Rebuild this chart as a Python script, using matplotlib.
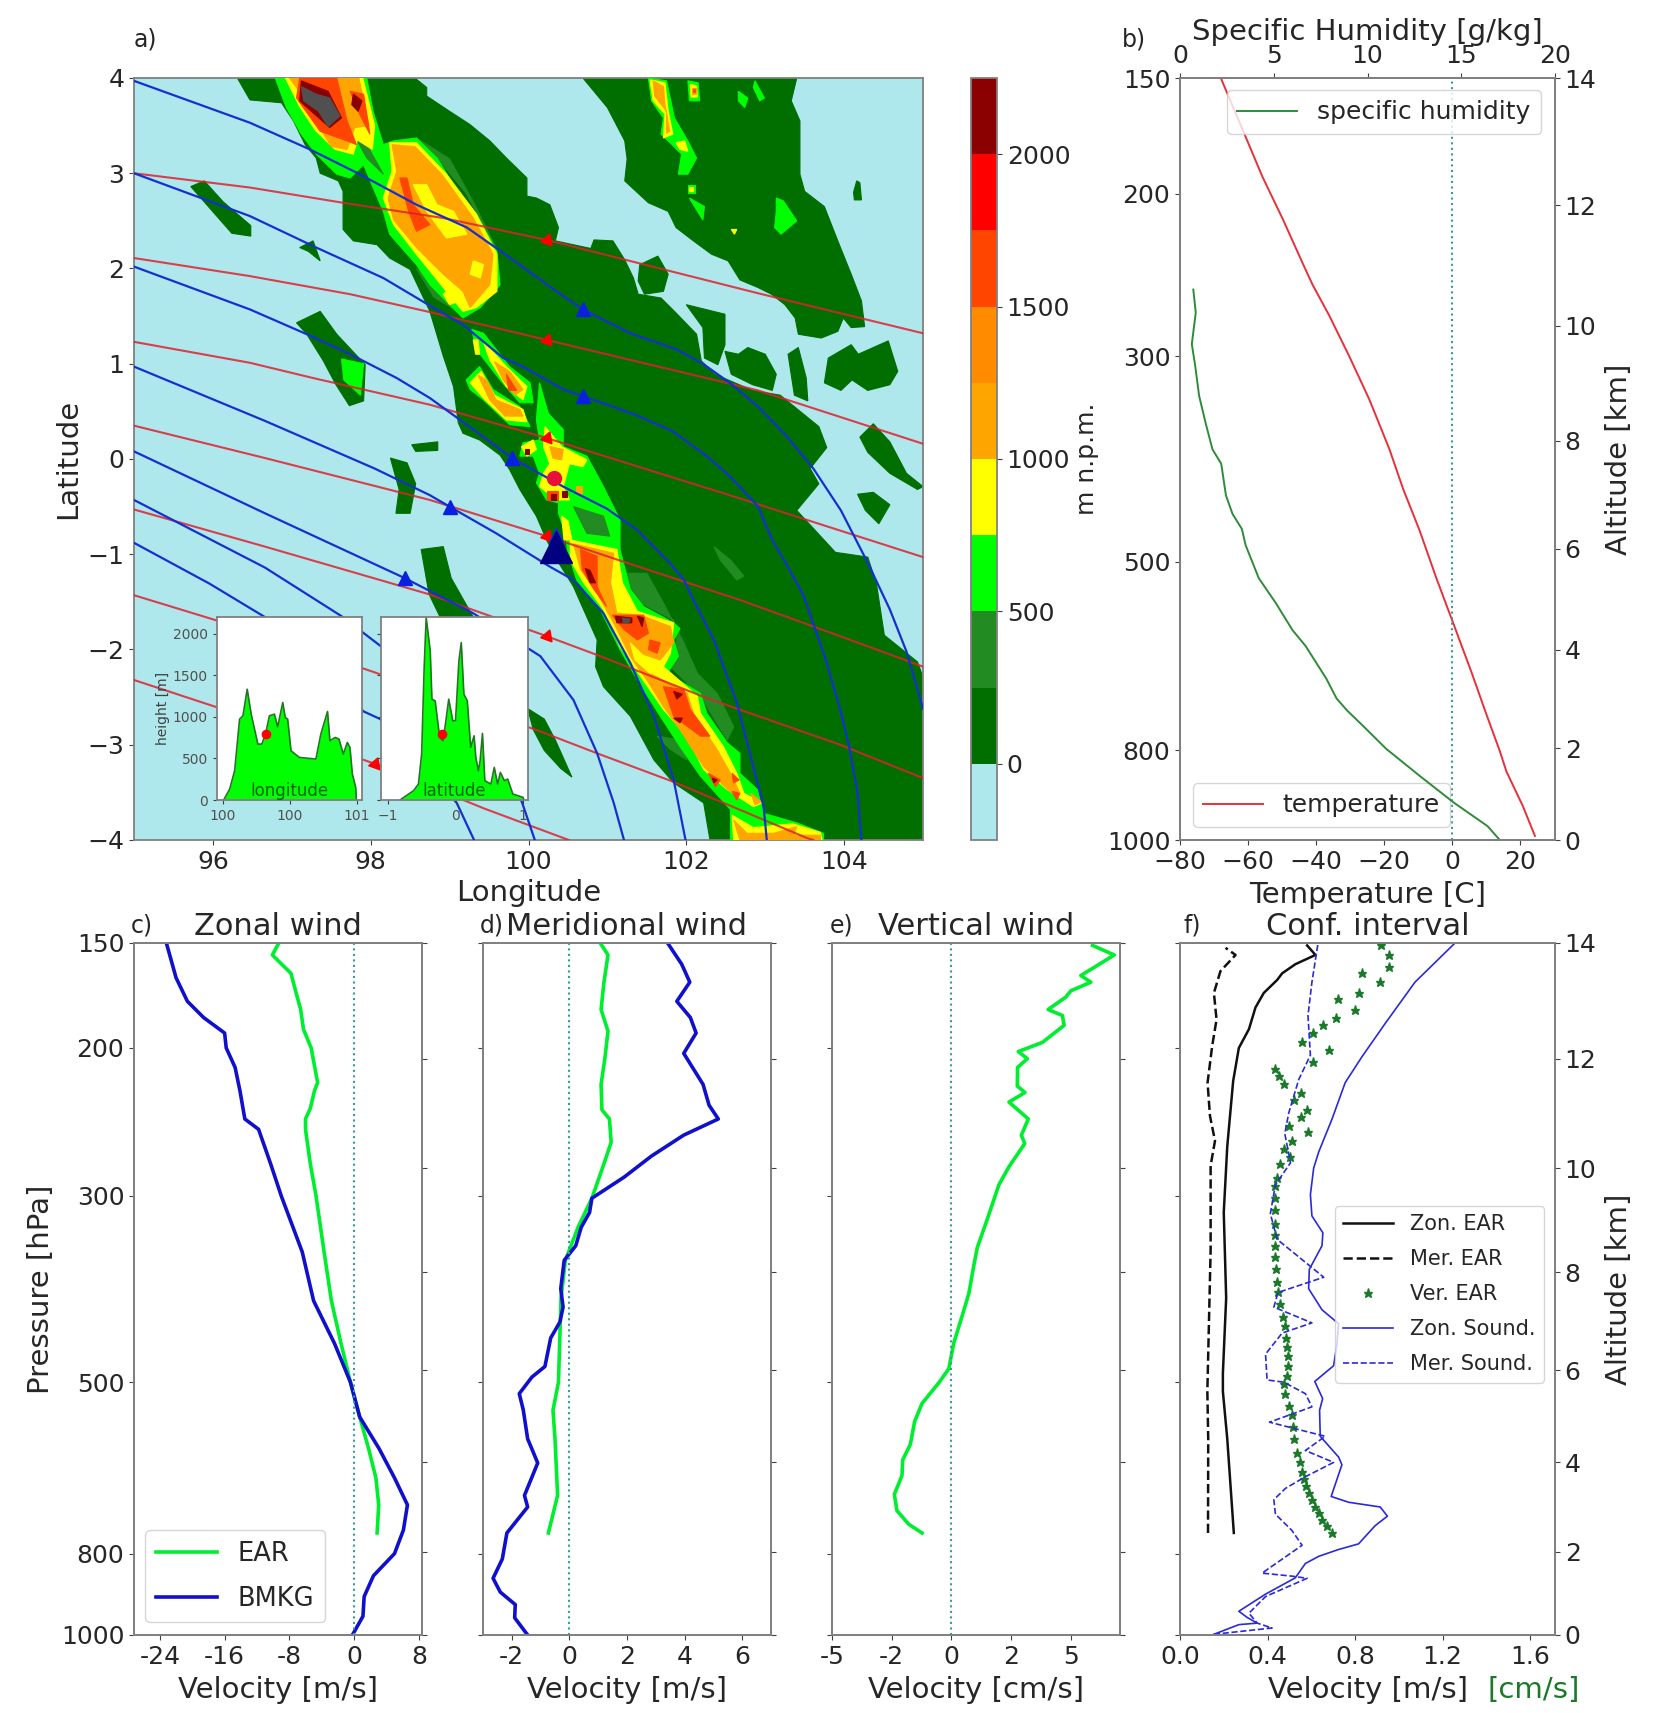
import matplotlib
matplotlib.use('Agg')
import matplotlib.pyplot as plt
from matplotlib.colors import ListedColormap, BoundaryNorm
from matplotlib.cm import ScalarMappable

# ---------- terrain outlines, lon/lat ----------
sumatra = [(96.31,4),(96.47,3.77),(96.87,3.74),(97.02,3.55),(97.17,3.3),(97.31,3.16),(97.36,3),(97.59,2.92),(97.65,2.81),(97.65,2.41),(97.78,2.29),(98.08,2.25),(98.24,2.11),(98.5,1.99),(98.75,1.55),(98.92,1.08),(99.05,.76),(99.11,.38),(99.17,.27),(99.38,.2),(99.64,.04),(99.76,-.11),(99.89,-.32),(100.1,-.6),(100.23,-.85),(100.36,-1.06),(100.57,-1.34),(100.66,-1.51),(100.87,-1.9),(100.85,-2.18),(100.95,-2.39),(101.29,-2.7),(101.59,-3.16),(101.84,-3.4),(102.22,-3.61),(102.3,-4),(105,-4),(105,-2.29),(104.93,-2.13),(104.51,-1.85),(104.41,-1.31),(104.3,-1.03),(103.89,-.98),(103.4,-.54),(103.68,-.26),(103.57,-.1),(103.78,.12),(103.68,.34),(103.19,.67),(102.84,.72),(102.36,.89),(102.19,1.03),(102.13,1.31),(101.85,1.55),(101.68,1.69),(101.39,1.73),(101.33,1.9),(101.22,2.09),(101.07,2.29),(100.83,2.3),(100.79,2.21),(100.34,2.29),(100.38,2.43),(100.27,2.67),(100.1,2.74),(99.98,2.76),(99.98,2.95),(99.72,3.16),(99.51,3.34),(99.26,3.51),(99,3.65),(98.71,3.81),(98.71,3.9),(98.56,4)]
malay = [(100.69,4),(101,3.69),(101.22,3.34),(101.25,3.15),(101.22,2.92),(101.52,2.69),(101.77,2.6),(101.87,2.43),(102.09,2.29),(102.32,2.15),(102.53,2.08),(102.68,1.88),(102.91,1.8),(103.08,1.73),(103.25,1.62),(103.38,1.48),(103.42,1.31),(103.71,1.27),(103.92,1.34),(103.99,1.48),(104.09,1.38),(104.26,1.39),(104.22,1.66),(104.09,1.94),(103.92,2.29),(103.75,2.65),(103.5,2.81),(103.44,2.99),(103.44,3.55),(103.33,3.76),(103.4,4)]
islands = [
    [(101.41,2.04),(101.64,2.13),(101.77,1.94),(101.71,1.76),(101.47,1.73),(101.39,1.87)],
    [(102,1.62),(102.49,1.52),(102.49,1.2),(102.4,.99),(102.23,1.06),(102.21,1.38)],
    [(102.49,1.13),(102.66,1.1),(102.78,1.17),(103,1.1),(103.14,.89),(103.09,.72),(102.84,.78),(102.57,.89)],
    [(103.29,1.1),(103.42,1.17),(103.52,.85),(103.54,.61),(103.37,.67)],
    [(103.8,1.06),(104.09,1.2),(104.18,1.1),(104.56,1.24),(104.68,.92),(104.58,.78),(104.3,.72),(104.1,.83),(103.96,.72),(103.75,.8)],
    [(104.2,.23),(104.37,.37),(104.58,.18),(104.79,-.15),(105,-.29),(104.93,-.32),(104.58,-.15),(104.3,.07)],
    [(104.17,-.37),(104.37,-.35),(104.58,-.48),(104.44,-.68),(104.27,-.54)],
    [(104.12,2.8),(104.16,2.92),(104.2,2.9),(104.22,2.72),(104.13,2.72)],
    [(95.72,2.86),(95.89,2.92),(96.13,2.7),(96.48,2.45),(96.48,2.34),(96.24,2.37),(95.89,2.7)],
    [(97.1,2.22),(97.27,2.29),(97.36,2.08),(97.21,2.18)],
    [(97.06,1.43),(97.36,1.55),(97.57,1.31),(97.93,.99),(97.91,.61),(97.73,.56),(97.56,.78),(97.4,1.03),(97.19,1.31)],
    [(98.52,.15),(98.85,.18),(98.85,.09),(98.57,.08)],
    [(98.25,.01),(98.46,-.04),(98.57,-.26),(98.5,-.57),(98.32,-.57),(98.36,-.32)],
    [(98.64,-.95),(98.92,-.92),(99.02,-1.25),(99.3,-1.66),(99.6,-1.9),(98.88,-1.66),(98.74,-1.42)],
    [(99.99,-2.62),(100.2,-2.73),(100.34,-2.95),(100.55,-3.34),(100.41,-3.25),(100.2,-3.06),(100.06,-2.84)],
]
band_250 = [
    [(101.16,-1.2),(101.5,-1.2),(101.71,-1.51),(101.97,-1.93),(102.14,-2.25),(102.39,-2.46),(102.6,-2.81),(102.52,-2.95),(102.18,-2.49),(101.8,-2.18),(101.88,-1.9),(101.84,-1.69),(101.42,-1.51)],
    [(101.63,-2.91),(101.92,-2.95),(102.01,-3.16),(101.8,-3.05)],
    [(102.35,-.92),(102.56,-1.06),(102.73,-1.23),(102.64,-1.27),(102.43,-1.06)],
    [(98.58,3.37),(99,3.15),(99.3,2.7),(99.6,2.2),(99.2,2.8),(98.9,3.1)],
    [(98.58,2),(99,1.7),(99.1,1.55),(98.8,1.7)],
]
band_500 = [
    [(96.79,4),(97.95,4),(98.03,3.65),(98.16,3.3),(98.29,3.34),(98.58,3.37),(98.84,3.16),(99.05,2.88),(99.34,2.57),(99.6,2.18),(99.64,1.83),(99.39,1.59),(99.17,1.48),(99,1.62),(98.75,1.83),(98.58,2.04),(98.24,2.36),(98.16,2.6),(98.03,2.85),(97.91,3.09),(97.74,2.95),(97.57,2.99),(97.31,3.2),(97.12,3.41),(96.93,3.69)],
    [(99.21,.83),(99.38,.97),(99.55,.73),(99.89,.55),(100.02,.34),(99.76,.36),(99.43,.62),(99.26,.73)],
    [(99.28,1.36),(99.43,1.32),(99.76,.97),(100.02,.8),(100.06,.59),(99.89,.59),(99.64,.83),(99.34,1.15)],
    [(100.14,.8),(100.25,.48),(100.44,.31),(100.44,.13),(100.74,.03),(100.95,-.29),(101.16,-.64),(101.16,-.95),(101.29,-1.37),(101.46,-1.55),(101.84,-1.72),(101.92,-1.78),(101.84,-1.9),(101.9,-2.07),(101.76,-2.25),(102.18,-2.46),(102.26,-2.67),(102.52,-2.98),(102.68,-3.09),(102.68,-3.3),(102.9,-3.47),(102.98,-3.72),(103.4,-3.82),(103.74,-3.93),(103.74,-4),(102.56,-4),(102.56,-3.68),(102.18,-3.33),(101.92,-3.02),(101.67,-2.7),(101.38,-2.32),(101.16,-2),(100.91,-1.58),(100.61,-1.27),(100.49,-.95),(100.48,-.81),(100.38,-.57),(100.38,-.46),(100.23,-.43),(100.1,-.25),(100.14,-.15),(100.06,.03),(99.89,.03),(99.93,.17),(100.14,.2),(100.1,.41)],
    [(101.52,4),(101.75,3.97),(101.85,3.58),(102.02,3.34),(102.13,3.16),(102.02,2.99),(101.9,2.99),(101.94,3.2),(101.77,3.34),(101.68,3.41),(101.71,3.58),(101.56,3.76)],
    [(102.02,3.97),(102.15,3.95),(102.17,3.76),(102.04,3.76)],
    [(102.66,3.86),(102.78,3.79),(102.74,3.69),(102.66,3.76)],
    [(102.87,3.97),(102.99,3.79),(102.93,3.76),(102.85,3.9)],
    [(102.02,2.88),(102.11,2.88),(102.11,2.79),(102.02,2.79)],
    [(102.04,2.74),(102.23,2.65),(102.21,2.51),(102.09,2.67)],
    [(103.14,2.74),(103.23,2.71),(103.4,2.5),(103.2,2.36),(103.12,2.43),(103.14,2.6)],
    [(97.63,1.05),(97.91,1),(97.87,.67),(97.66,.83)],
]
band_250_inner = [
    [(100.57,-.5),(100.95,-.6),(101.03,-.81),(100.74,-.78)],
    [(97.61,3.79),(97.82,3.55),(98.01,3.21),(98.16,2.99),(97.95,3.16),(97.74,3.48)],
]
band_750 = [
    [(96.92,4),(97.9,4),(98.05,3.5),(98.02,3.25),(97.83,3.35),(97.78,3.2),(97.55,3.25),(97.3,3.45),(97.1,3.7)],
    [(98.24,3.32),(98.58,3.32),(98.96,2.99),(99.34,2.57),(99.6,2.15),(99.6,1.76),(99.34,1.59),(99.17,1.55),(98.96,1.76),(98.58,2.15),(98.29,2.46),(98.16,2.74),(98.27,3.02)],
    [(99.26,.8),(99.4,.92),(99.57,.67),(99.93,.52),(99.98,.39),(99.72,.41),(99.45,.62)],
    [(99.43,1.23),(99.72,.97),(99.98,.76),(99.93,.62),(99.72,.76),(99.51,1.04)],
    [(99.3,1.25),(99.36,1.25),(99.38,1.1),(99.33,1.1)],
    [(100.21,.34),(100.42,.13),(100.74,-.01),(100.69,-.08),(100.52,-.05),(100.44,-.29),(100.52,-.43),(100.36,-.43),(100.14,-.29),(100.19,-.15),(100.27,-.05),(100.19,.13)],
    [(99.91,.13),(100.06,.2),(100.1,.1),(99.98,.03)],
    [(100.42,-.6),(100.5,-.65),(100.55,-.85),(100.45,-.85)],
    [(100.53,-.85),(101.12,-.95),(101.19,-1.3),(101.38,-1.6),(101.84,-1.72),(101.8,-2.04),(101.71,-2.18),(102.14,-2.49),(102.18,-2.67),(102.47,-3.02),(102.64,-3.3),(102.73,-3.51),(102.96,-3.61),(102.85,-3.65),(102.52,-3.47),(102.22,-3.26),(102.01,-2.91),(101.71,-2.63),(101.42,-2.28),(101.16,-1.97),(100.95,-1.58),(100.7,-1.3),(100.53,-1.06)],
    [(102.58,-3.74),(102.85,-3.87),(103.35,-3.83),(103.7,-3.92),(103.72,-4),(102.6,-4)],
    [(101.54,3.98),(101.73,3.95),(101.77,3.65),(101.83,3.41),(101.71,3.37),(101.73,3.62),(101.58,3.76)],
    [(101.87,3.32),(101.98,3.34),(102.02,3.23),(101.92,3.25)],
    [(102.05,3.93),(102.13,3.92),(102.14,3.8),(102.06,3.8)],
    [(102.04,2.86),(102.09,2.86),(102.09,2.81),(102.04,2.81)],
    [(102.57,2.41),(102.64,2.41),(102.61,2.36)],
]
band_1000 = [
    [(96.97,4),(97.85,4),(97.98,3.5),(97.8,3.48),(97.7,3.25),(97.5,3.28),(97.3,3.55),(97.15,3.8)],
    [(98.27,3.3),(98.56,3.28),(98.9,2.99),(99.3,2.53),(99.55,2.15),(99.51,1.83),(99.26,1.59),(99.17,1.76),(98.92,1.94),(98.58,2.22),(98.29,2.51),(98.22,2.74),(98.33,3.02)],
    [(99.36,.88),(99.47,.83),(99.59,.62),(99.89,.52),(99.93,.45),(99.7,.45),(99.51,.62)],
    [(99.57,1.02),(99.76,.92),(99.93,.73),(99.83,.67),(99.68,.83)],
    [(100.27,.13),(100.44,.1),(100.42,-.01),(100.31,.01)],
    [(100.57,-.89),(101.08,-.99),(101.04,-1.3),(101.12,-1.62),(101.42,-1.64),(101.8,-1.76),(101.84,-1.93),(101.67,-2.11),(101.42,-2.04),(101.54,-2.25),(102.01,-2.46),(102.09,-2.67),(102.39,-3.05),(102.56,-3.3),(102.68,-3.51),(102.58,-3.51),(102.22,-3.23),(101.92,-2.84),(101.71,-2.6),(101.5,-2.32),(101.29,-2.07),(101.08,-1.72),(100.87,-1.41),(100.66,-1.16)],
    [(102.82,-3.51),(102.95,-3.6),(102.87,-3.63)],
    [(102.6,-3.79),(102.77,-3.93),(103.11,-3.93),(103.4,-3.86),(103.36,-3.95),(103.7,-3.95),(103.7,-4),(102.68,-4)],
    [(101.58,3.97),(101.71,3.91),(101.73,3.72),(101.79,3.44),(101.75,3.42),(101.75,3.65),(101.6,3.81)],
    [(102.07,3.9),(102.12,3.9),(102.12,3.83),(102.07,3.83)],
    [(100.6,-.28),(100.68,-.28),(100.68,-.36),(100.6,-.36)],
]
patch_yellow = [
    [(98.54,2.88),(98.71,2.88),(98.84,2.67),(99.05,2.6),(99.22,2.36),(98.96,2.32),(98.71,2.6)],
    [(99.3,2.08),(99.43,2.04),(99.39,1.9),(99.26,1.94)],
    [(98.96,1.76),(99.13,1.66),(99,1.62),(98.92,1.73)],
    [(101.29,-1.93),(101.46,-2.07),(101.67,-2.21),(101.54,-2.25),(101.35,-2.11)],
]
band_1500 = [
    [(97.1,4),(97.57,4),(97.7,3.55),(97.82,3.3),(97.7,3.34),(97.36,3.44),(97.06,3.79)],
    [(97.74,3.86),(97.91,3.83),(97.99,3.41),(97.86,3.62)],
    [(98.37,2.95),(98.46,2.95),(98.54,2.67),(98.75,2.46),(98.58,2.39),(98.48,2.6)],
    [(100.66,-.95),(100.87,-1.02),(100.87,-1.34),(100.99,-1.55),(100.83,-1.37),(100.68,-1.16)],
    [(101.06,-1.64),(101.46,-1.64),(101.52,-1.83),(101.38,-1.9),(101.21,-1.79)],
    [(101.71,-2.39),(101.97,-2.42),(102.05,-2.63),(102.3,-2.91),(102.18,-2.91),(101.84,-2.7)],
    [(102.28,-3.3),(102.43,-3.37),(102.37,-3.44)],
    [(102.58,-3.3),(102.67,-3.37),(102.6,-3.4)],
    [(102.58,-3.49),(102.68,-3.51),(102.64,-3.58)],
    [(101.54,-1.9),(101.67,-1.93),(101.63,-2.04),(101.52,-2)],
    [(100.23,-.34),(100.38,-.34),(100.38,-.43),(100.23,-.43)],
    [(99.72,.89),(99.85,.72),(99.75,.72)],
    [(102.08,3.88),(102.11,3.88),(102.11,3.85),(102.08,3.85)],
]
band_2000 = [
    [(97.12,3.97),(97.46,3.86),(97.63,3.58),(97.48,3.48),(97.29,3.62),(97.1,3.76)],
    [(97.78,3.83),(97.89,3.76),(97.84,3.65),(97.76,3.72)],
    [(100.72,-1.15),(100.78,-1.17),(100.85,-1.3),(100.78,-1.3)],
    [(101.1,-1.65),(101.31,-1.67),(101.31,-1.72),(101.12,-1.72)],
    [(101.38,-1.65),(101.46,-1.67),(101.44,-1.76)],
    [(101.84,-2.44),(101.95,-2.47),(101.88,-2.52)],
    [(101.84,-2.72),(101.95,-2.72),(101.92,-2.77)],
    [(102.33,-3.35),(102.39,-3.37),(102.35,-3.4)],
    [(100.29,-.37),(100.35,-.37),(100.35,-.43),(100.29,-.43)],
    [(100.43,-.34),(100.49,-.34),(100.49,-.4),(100.43,-.4)],
    [(99.95,.11),(100.01,.11),(100.01,.05),(99.95,.05)],
]
band_top = [
    [(97.12,3.91),(97.31,3.83),(97.48,3.79),(97.61,3.6),(97.46,3.49),(97.34,3.65),(97.15,3.76)],
    [(101.19,-1.67),(101.29,-1.68),(101.27,-1.72),(101.2,-1.72)],
]

# ---------- trajectories ----------
red_tracks = [
    [(95,3),(96.47,2.85),(97.65,2.69),(98.92,2.53),(100.23,2.3),(102.91,1.74),(105,1.32)],
    [(95,2.11),(96.47,1.92),(97.74,1.73),(98.71,1.55),(100.23,1.25),(102.91,.72),(105,.16)],
    [(95,1.23),(96.47,1.01),(97.27,.85),(98.75,.57),(100.23,.22),(102.55,-.38),(105,-1.03)],
    [(95,.35),(96.66,.01),(98.75,-.43),(100.23,-.81),(101.21,-1.08),(102.68,-1.48),(103.95,-1.86),(105,-2.18)],
    [(95,-.53),(96.66,-.92),(98.74,-1.42),(100.23,-1.86),(100.91,-2.07),(102.26,-2.51),(103.95,-3),(105,-3.35)],
    [(95,-1.43),(96.66,-1.85),(98.05,-2.24),(100.15,-2.86),(100.87,-3.09),(101.84,-3.39),(103.53,-3.98),(103.61,-4)],
    [(95,-2.32),(96.1,-2.62),(98.05,-3.2),(99.44,-3.67),(100.51,-4)],
]
blue_tracks = [
    [(95,3.97),(96.47,3.53),(97.23,3.25),(97.86,2.99),(98.58,2.67),(99.22,2.43),(99.77,2.11),(100.27,1.81),(100.69,1.57),(101.29,1.32),(101.88,1.15),(102.21,1),(102.55,.8),(102.91,.55),(103.26,.25),(103.61,-.1),(103.96,-.54),(104.3,-1.09),(104.58,-1.58),(104.79,-2.02),(105,-2.62)],
    [(95,3),(96.47,2.55),(97.31,2.22),(98.16,1.9),(98.79,1.59),(99.17,1.41),(99.68,1.06),(99.93,.97),(100.44,.73),(100.69,.66),(101.37,.46),(101.83,.29),(102.26,.03),(102.55,-.18),(102.91,-.5),(103.09,-.85),(103.3,-1.15),(103.49,-1.44),(103.78,-2.14),(103.95,-2.63),(104.06,-3),(104.17,-3.5),(104.22,-4)],
    [(95,2.02),(96.47,1.57),(97.19,1.31),(97.74,1.1),(98.33,.85),(98.75,.64),(99.3,.31),(99.79,.01),(100.44,-.29),(100.99,-.52),(101.37,-.74),(101.79,-1.09),(101.97,-1.27),(102.09,-1.48),(102.35,-1.9),(102.64,-2.56),(102.85,-3.23),(102.98,-3.65),(103.02,-4)],
    [(95,.97),(96.66,.4),(98.05,-.1),(98.75,-.38),(99,-.5),(99.59,-.78),(100.27,-1.13),(100.57,-1.27),(100.95,-1.62),(101.29,-2.14),(101.59,-2.7),(101.84,-3.37),(101.99,-4)],
    [(95,.08),(96.66,-.57),(98.43,-1.25),(99.3,-1.62),(100.15,-2.07),(100.57,-2.53),(100.87,-3.09),(101.08,-3.61),(101.21,-4)],
    [(95,-.43),(96.66,-1.14),(97.63,-1.65),(98.12,-1.96),(99.02,-2.62),(99.65,-3.06),(99.92,-3.61),(100.08,-4)],
    [(95,-.88),(95.96,-1.31),(96.66,-1.66),(97.91,-2.65),(98.12,-2.73),(99.09,-3.61),(99.31,-4)],
]
red_marks_lon = [100.23,100.23,100.23,100.23,100.23,98.05]
red_marks_lat = [2.3,1.25,.22,-.81,-1.86,-3.2]
blue_marks_lon = [100.69,100.69,99.79,99,98.43]
blue_marks_lat = [1.57,.66,.01,-.5,-1.25]

# ---------- inset terrain sections ----------
sec_lon = [100.005,100.05,100.087,100.124,100.149,100.181,100.211,100.261,100.29,100.318,100.347,100.385,100.409,100.447,100.466,100.484,100.509,100.571,100.695,100.732,100.782,100.8,100.839,100.868,100.9,100.93,100.95,100.968,100.993,100.998]
sec_lon_h = [0,132,352,972,1012,1332,1032,672,672,792,1012,1032,880,1172,992,972,592,512,492,792,1064,712,752,732,552,692,632,312,152,0]
sec_lat = [-.82,-.62,-.547,-.5,-.463,-.433,-.373,-.348,-.3,-.234,-.184,-.149,-.1,-.04,0,.05,.085,.124,.174,.224,.274,.3,.338,.363,.398,.433,.522,.572,.622,.662,.721,.771,.846,.995,1.01]
sec_lat_h = [0,112,192,552,1592,2192,1792,1212,1192,752,712,912,1212,952,952,1672,1892,1272,1192,632,772,512,352,472,800,232,192,392,192,332,232,252,72,32,0]

# ---------- panel b ----------
temp_p = [990,920,843,802,731,658,582,521,463,417,378,334,300,271,251,238,213,192,174,150]
temp_c = [24.4,20.9,16,14.1,10.1,5.7,.3,-4.6,-9.5,-14.4,-18.4,-24.3,-30.2,-36.1,-41,-43.9,-49.8,-55.7,-60.6,-68]
hum_p = [997,966,911,853,797,754,724,703,669,617,593,554,521,480,461,444,424,392,378,355,331,306,291,269,254]
hum_q = [17,16.4,14.6,12.8,11,9.8,8.9,8.35,7.8,6.7,6,5.1,4.2,3.5,3.3,2.8,2.45,2.2,1.73,1.38,1.02,.8,.63,.84,.71]

# ---------- panel c ----------
zon_bmkg_p = [1000,950,900,850,800,750,700,650,600,550,500,450,400,350,300,275,250,243,225,211,200,192,184,176,165,150]
zon_bmkg = [-.2,1.1,1.25,2.4,5,6.1,6.6,5,3.1,.7,-.45,-2.4,-5,-6.4,-9,-10.3,-11.8,-13.5,-14.1,-14.7,-15.8,-16,-18.6,-20.6,-22,-23.2]
zon_ear_p = [756,700,650,600,550,500,450,400,350,300,275,250,243,236,225,220,200,190,180,170,163,155,150]
zon_ear = [2.85,3.05,2.7,1.8,.7,-.45,-1.6,-2.8,-3.7,-4.7,-5.4,-6,-6,-5.4,-4.9,-4.5,-5.3,-6.25,-6.6,-7.3,-7.8,-10.1,-9.3]

# ---------- panel d ----------
mer_bmkg_p = [1000,954,920,889,856,812,756,704,682,624,584,540,516,493,479,443,424,407,387,358,344,327,314,302,285,269,254,243,234,221,203,192,184,176,167,159,150]
mer_bmkg = [-1.45,-1.9,-1.88,-2.4,-2.65,-2.33,-2.17,-1.45,-1.56,-1.1,-1.45,-1.6,-1.74,-1.3,-.85,-.65,-.33,-.22,-.3,-.18,.22,.41,.7,.78,1.9,2.85,3.97,5.17,4.85,4.64,3.97,4.4,4.2,3.73,4.18,3.9,3.41]
mer_ear_p = [756,682,584,540,500,440,397,358,327,302,276,259,243,237,221,206,191,180,167,155,150]
mer_ear = [-.73,-.41,-.5,-.57,-.38,-.33,-.29,-.14,.3,.78,1.18,1.45,1.39,1.13,1.1,1.23,1.34,1.1,1.2,1.34,1.07]

# ---------- panel e ----------
ver_ear_p = [756,738,711,680,646,619,593,557,530,501,482,449,417,392,363,346,320,291,277,260,254,243,232,226,222,211,206,202,197,188,183,180,174,171,167,164,155,151]
ver_ear = [-1.23,-1.79,-2.28,-2.39,-2.07,-2.04,-1.72,-1.54,-1.23,-.53,-.11,.1,.45,.73,.94,1.08,1.5,1.99,2.41,3.07,2.93,3.22,2.41,3.08,2.76,2.77,3.18,2.8,3.81,4.72,4.65,4.05,4.79,5,5.84,5.42,6.82,5.91]

# ---------- panel f ----------
ci_zon_ear_p = [756,584,513,488,397,314,262,219,200,190,179,172,166,163,159,155,151]
ci_zon_ear = [.246,.216,.196,.196,.211,.2,.216,.243,.269,.315,.345,.383,.444,.467,.527,.619,.581]
ci_mer_ear_p = [756,584,513,348,276,258,241,220,199,185,172,162,155,152]
ci_mer_ear = [.128,.129,.125,.14,.14,.16,.137,.126,.147,.167,.155,.185,.254,.208]
ci_ver_ear_p = [756,741,729,716,704,691,678,665,652,640,623,607,584,565,547,534,516,503,491,478,466,454,443,429,418,404,391,380,367,355,344,334,324,312,302,292,286,275,264,270,258,248,252,242,237,231,226,221,216,212,208,201,197,192,188,184,180,175,172,167,163,160,155,151]
ci_ver_ear = [.695,.672,.649,.634,.619,.603,.588,.576,.565,.558,.55,.535,.523,.517,.512,.497,.482,.474,.489,.492,.492,.489,.485,.479,.47,.459,.448,.444,.439,.436,.433,.433,.433,.433,.436,.436,.444,.459,.474,.505,.512,.497,.585,.553,.581,.52,.553,.474,.451,.432,.608,.681,.558,.606,.652,.714,.798,.722,.816,.915,.834,.953,.953,.919]
ci_zon_snd_p = [998,972,968,953,937,894,855,822,806,791,779,741,722,704,695,684,627,614,580,540,523,499,478,451,426,410,387,367,344,332,317,299,278,266,243,220,205,187,167,150]
ci_zon_snd = [.155,.269,.353,.307,.269,.391,.527,.573,.634,.725,.816,.892,.948,.915,.771,.691,.74,.725,.641,.638,.652,.616,.702,.717,.725,.649,.588,.591,.649,.653,.603,.596,.611,.634,.695,.755,.831,.938,1.074,1.257]
ci_mer_snd_p = [998,981,968,942,900,856,851,844,782,751,718,690,669,648,623,603,580,558,535,516,500,497,463,437,425,407,391,375,338,315,291,274,253,239,218,204,183,167,150]
ci_mer_snd = [.155,.421,.353,.315,.391,.581,.512,.375,.558,.512,.436,.429,.482,.573,.702,.573,.664,.409,.603,.573,.474,.398,.391,.467,.603,.429,.448,.657,.444,.413,.436,.505,.479,.497,.543,.596,.585,.603,.631]

# ---------- axes tick values ----------
press_ticks = [150,200,300,500,800,1000]
alt_km = [0,2,4,6,8,10,12,14]
alt_press = [1000,796,623,484,370,278,206,150]
height_levels = [-250,0,250,500,750,1000,1250,1500,1750,2000,2250]
height_colors = ['#AEE8EC','#006F00','#228B22','#00FF00','#FFFF00','#FFA500','#FF8C00','#FF4500','#FF0000','#8B0000']

plt.rcParams['font.family'] = 'DejaVu Sans'
plt.rcParams['font.size'] = 18
plt.rcParams['text.color'] = '#262626'
plt.rcParams['axes.labelcolor'] = '#262626'
plt.rcParams['xtick.color'] = '#404040'
plt.rcParams['ytick.color'] = '#404040'
plt.rcParams['xtick.labelcolor'] = '#262626'
plt.rcParams['ytick.labelcolor'] = '#262626'
plt.rcParams['axes.edgecolor'] = '#808080'
plt.rcParams['axes.linewidth'] = 1.3

W, H = 1659, 1713
fig = plt.figure(figsize=(W/100, H/100), dpi=100)

def box(l, t, r, b):
    return [l/W, 1-b/H, (r-l)/W, (b-t)/H]

def fill_all(ax, polys, color, z):
    for poly in polys:
        xs, ys = zip(*poly)
        ax.fill(xs, ys, color=color, lw=0.8, zorder=z)

def pressure_axis(ax, labels=True):
    ax.set_yscale('log')
    ax.set_ylim(1000, 150)
    ax.set_yticks(press_ticks)
    ax.minorticks_off()
    if labels:
        ax.set_yticklabels([str(p) for p in press_ticks])
    else:
        ax.set_yticklabels([])

def altitude_axis(ax, labels=True):
    ax2 = ax.twinx()
    ax2.set_yscale('log')
    ax2.set_ylim(1000, 150)
    ax2.set_yticks(alt_press)
    ax2.minorticks_off()
    if labels:
        ax2.set_yticklabels([str(k) for k in alt_km])
    else:
        ax2.set_yticklabels([])
    return ax2

# a) map
ax = fig.add_axes(box(134, 78, 923, 840))
ax.set_facecolor(height_colors[0])
fill_all(ax, [sumatra, malay] + islands, height_colors[1], 1)
fill_all(ax, band_250, height_colors[2], 2)
fill_all(ax, band_500, height_colors[3], 3)
fill_all(ax, band_250_inner, height_colors[2], 3.5)
fill_all(ax, band_750, height_colors[4], 4)
fill_all(ax, band_1000, height_colors[5], 5)
fill_all(ax, patch_yellow, height_colors[4], 6)
fill_all(ax, band_1500, height_colors[7], 7)
fill_all(ax, band_2000, height_colors[9], 8)
fill_all(ax, band_top, '#505050', 9)
for tr in red_tracks:
    xs, ys = zip(*tr)
    ax.plot(xs, ys, color='#E02030', lw=1.5, alpha=.85, zorder=10)
for tr in blue_tracks:
    xs, ys = zip(*tr)
    ax.plot(xs, ys, color='#1530D0', lw=1.6, zorder=11)
ax.plot(red_marks_lon, red_marks_lat, ls='none', marker=(3, 0, 100), ms=10, color='red', zorder=12)
ax.plot(blue_marks_lon, blue_marks_lat, ls='none', marker='^', ms=10, color='#0A20E0', zorder=12)
ax.plot([100.32], [-.2], ls='none', marker='o', ms=10, color='#E8103A', zorder=12)
ax.plot([100.35], [-.8], ls='none', marker='^', ms=10, color='#1530D0', zorder=12)
ax.plot([100.35], [-.92], ls='none', marker='^', ms=23, color='#000080', zorder=13)
ax.set_xlim(95, 105)
ax.set_ylim(-4, 4)
ax.set_xticks([96, 98, 100, 102, 104])
ax.set_yticks(range(-4, 5))
ax.set_xlabel('Longitude', fontsize=21, labelpad=4)
ax.set_ylabel('Latitude', fontsize=21, labelpad=4)

# insets of the map
ins1 = fig.add_axes(box(217, 617, 362, 800), zorder=5)
ins1.fill_between(sec_lon, sec_lon_h, color='#00FF00', lw=0)
ins1.plot(sec_lon, sec_lon_h, color='#227722', lw=1.2)
ins1.plot([100.318], [792], marker='o', ms=6, color='red')
ins1.set_xlim(99.955, 101.04)
ins1.set_ylim(0, 2200)
ins1.set_xticks([100, 100.5, 101])
ins1.set_xticklabels(['100', '100', '101'])
ins1.set_yticks([0, 500, 1000, 1500, 2000])
ins1.tick_params(labelsize=10, labelcolor='#505050', length=3)
ins1.set_ylabel('height [m]', fontsize=10, labelpad=2, color='#404040')
ins1.text(.5, .0, 'longitude', transform=ins1.transAxes, ha='center', va='bottom', fontsize=12, color='#106010')

ins2 = fig.add_axes(box(381, 617, 528, 800), zorder=5)
ins2.fill_between(sec_lat, sec_lat_h, color='#00FF00', lw=0)
ins2.plot(sec_lat, sec_lat_h, color='#227722', lw=1.2)
ins2.plot([-.2], [792], marker='o', ms=6, color='red')
ins2.set_xlim(-1.1, 1.07)
ins2.set_ylim(0, 2200)
ins2.set_xticks([-1, 0, 1])
ins2.set_yticks([0, 500, 1000, 1500, 2000])
ins2.set_yticklabels([])
ins2.tick_params(labelsize=10, labelcolor='#505050', length=3)
ins2.text(.5, .0, 'latitude', transform=ins2.transAxes, ha='center', va='bottom', fontsize=12, color='#106010')

# colorbar
cax = fig.add_axes(box(971, 78, 997, 840))
cb = fig.colorbar(ScalarMappable(norm=BoundaryNorm(height_levels, len(height_colors)),
                                 cmap=ListedColormap(height_colors)),
                  cax=cax, spacing='proportional', ticks=[0, 500, 1000, 1500, 2000])
cb.ax.minorticks_off()
fig.text(1087/W, 1-459/H, 'm n.p.m.', rotation=90, ha='center', va='center', fontsize=18)

# b) temperature and humidity
axb = fig.add_axes(box(1180, 78, 1555, 840))
l_t, = axb.plot(temp_c, temp_p, color='#E8303A', lw=1.4, label='temperature')
axb.axvline(0, color='#3A9A9A', ls=':', lw=1.5)
axb.set_xlim(-80, 30.3)
axb.set_xticks([-80, -60, -40, -20, 0, 20])
axb.set_xlabel('Temperature [C]', fontsize=21, labelpad=5)
axb_top = axb.twiny()
l_q, = axb_top.plot(hum_q, hum_p, color='#2E8B3A', lw=1.4, label='specific humidity')
axb_top.set_xlim(0, 20)
axb_top.set_xticks([0, 5, 10, 15, 20])
axb_top.set_xlabel('Specific Humidity [g/kg]', fontsize=21, labelpad=3)
pressure_axis(axb)
axb2 = altitude_axis(axb)
axb2.set_ylabel('Altitude [km]', fontsize=21, labelpad=6)
axb.legend(handles=[l_t], loc='lower left', bbox_to_anchor=(.0, .0), fontsize=18, handlelength=2.4)
axb2.legend(handles=[l_q], loc='upper right', bbox_to_anchor=(.995, 1.0), fontsize=18, handlelength=2.4)

# c) zonal wind
axc = fig.add_axes(box(134, 943, 422, 1635))
axc.plot(zon_ear, zon_ear_p, color='#00EE30', lw=2.6, label='EAR')
axc.plot(zon_bmkg, zon_bmkg_p, color='#1010CC', lw=2.6, label='BMKG')
axc.axvline(0, color='#3A9A9A', ls=':', lw=1.5)
pressure_axis(axc)
axc.set_xlim(-27.2, 8.4)
axc.set_xticks([-24, -16, -8, 0, 8])
axc.set_xticklabels(['-24', '-16', '-8', '0', '8'])
axc.set_xlabel('Velocity [m/s]', fontsize=21, labelpad=5)
axc.set_ylabel('Pressure [hPa]', fontsize=21, labelpad=4)
axc.set_title('Zonal wind', fontsize=22, pad=6)
axc.legend(loc='lower left', bbox_to_anchor=(-.005, .0), fontsize=18.5, handlelength=2.4, labelspacing=.75)
altitude_axis(axc, labels=False)

# d) meridional wind
axd = fig.add_axes(box(483, 943, 771, 1635))
axd.plot(mer_ear, mer_ear_p, color='#00EE30', lw=2.6)
axd.plot(mer_bmkg, mer_bmkg_p, color='#1010CC', lw=2.6)
axd.axvline(0, color='#3A9A9A', ls=':', lw=1.5)
pressure_axis(axd, labels=False)
axd.set_xlim(-3, 7)
axd.set_xticks([-2, 0, 2, 4, 6])
axd.set_xticklabels(['-2', '0', '2', '4', '6'])
axd.set_xlabel('Velocity [m/s]', fontsize=21, labelpad=5)
axd.set_title('Meridional wind', fontsize=22, pad=6)
altitude_axis(axd, labels=False)

# e) vertical wind
axe = fig.add_axes(box(832, 943, 1120, 1635))
axe.plot(ver_ear, ver_ear_p, color='#00EE30', lw=2.6)
axe.axvline(0, color='#3A9A9A', ls=':', lw=1.5)
pressure_axis(axe, labels=False)
axe.set_xlim(-5, 7.06)
axe.set_xticks([-5, -2.5, 0, 2.5, 5])
axe.set_xticklabels(['-5', '-2', '0', '2', '5'])
axe.set_xlabel('Velocity [cm/s]', fontsize=21, labelpad=5)
axe.set_title('Vertical wind', fontsize=22, pad=6)
altitude_axis(axe, labels=False)

# f) confidence interval
axf = fig.add_axes(box(1180, 943, 1555, 1635))
axf.plot(ci_zon_ear, ci_zon_ear_p, color='#111111', lw=1.8, label='Zon. EAR')
axf.plot(ci_mer_ear, ci_mer_ear_p, color='#111111', lw=1.8, ls='--', label='Mer. EAR')
axf.plot(ci_ver_ear, ci_ver_ear_p, ls='none', marker='*', ms=6.5, color='#1A7A2A', label='Ver. EAR')
axf.plot(ci_zon_snd, ci_zon_snd_p, color='#2A2AD8', lw=1.2, label='Zon. Sound.')
axf.plot(ci_mer_snd, ci_mer_snd_p, color='#2A2AD8', lw=1.2, ls='--', label='Mer. Sound.')
pressure_axis(axf, labels=False)
axf.set_xlim(0, 1.714)
axf.set_xticks([0, .4, .8, 1.2, 1.6])
axf.set_xticklabels(['0.0', '0.4', '0.8', '1.2', '1.6'])
axf.set_title('Conf. interval', fontsize=22, pad=6)
axf.legend(loc='upper left', bbox_to_anchor=(.413, .62), fontsize=15, handlelength=2.4, borderaxespad=0, labelspacing=.72)
axf2 = altitude_axis(axf)
axf2.set_ylabel('Altitude [km]', fontsize=21, labelpad=6)
fig.text(1268/W, 1-1698/H, 'Velocity [m/s]', ha='left', va='baseline', fontsize=21)
fig.text(1488/W, 1-1698/H, '[cm/s]', ha='left', va='baseline', fontsize=21, color='#1A7A2A')

# panel letters
for lab, px, py in [('a)', 134, 46), ('b)', 1122, 46), ('c)', 131, 933), ('d)', 480, 933), ('e)', 830, 933), ('f)', 1184, 933)]:
    fig.text(px/W, 1-py/H, lab, fontsize=17, ha='left', va='baseline')

fig.savefig('out.png', dpi=100)
